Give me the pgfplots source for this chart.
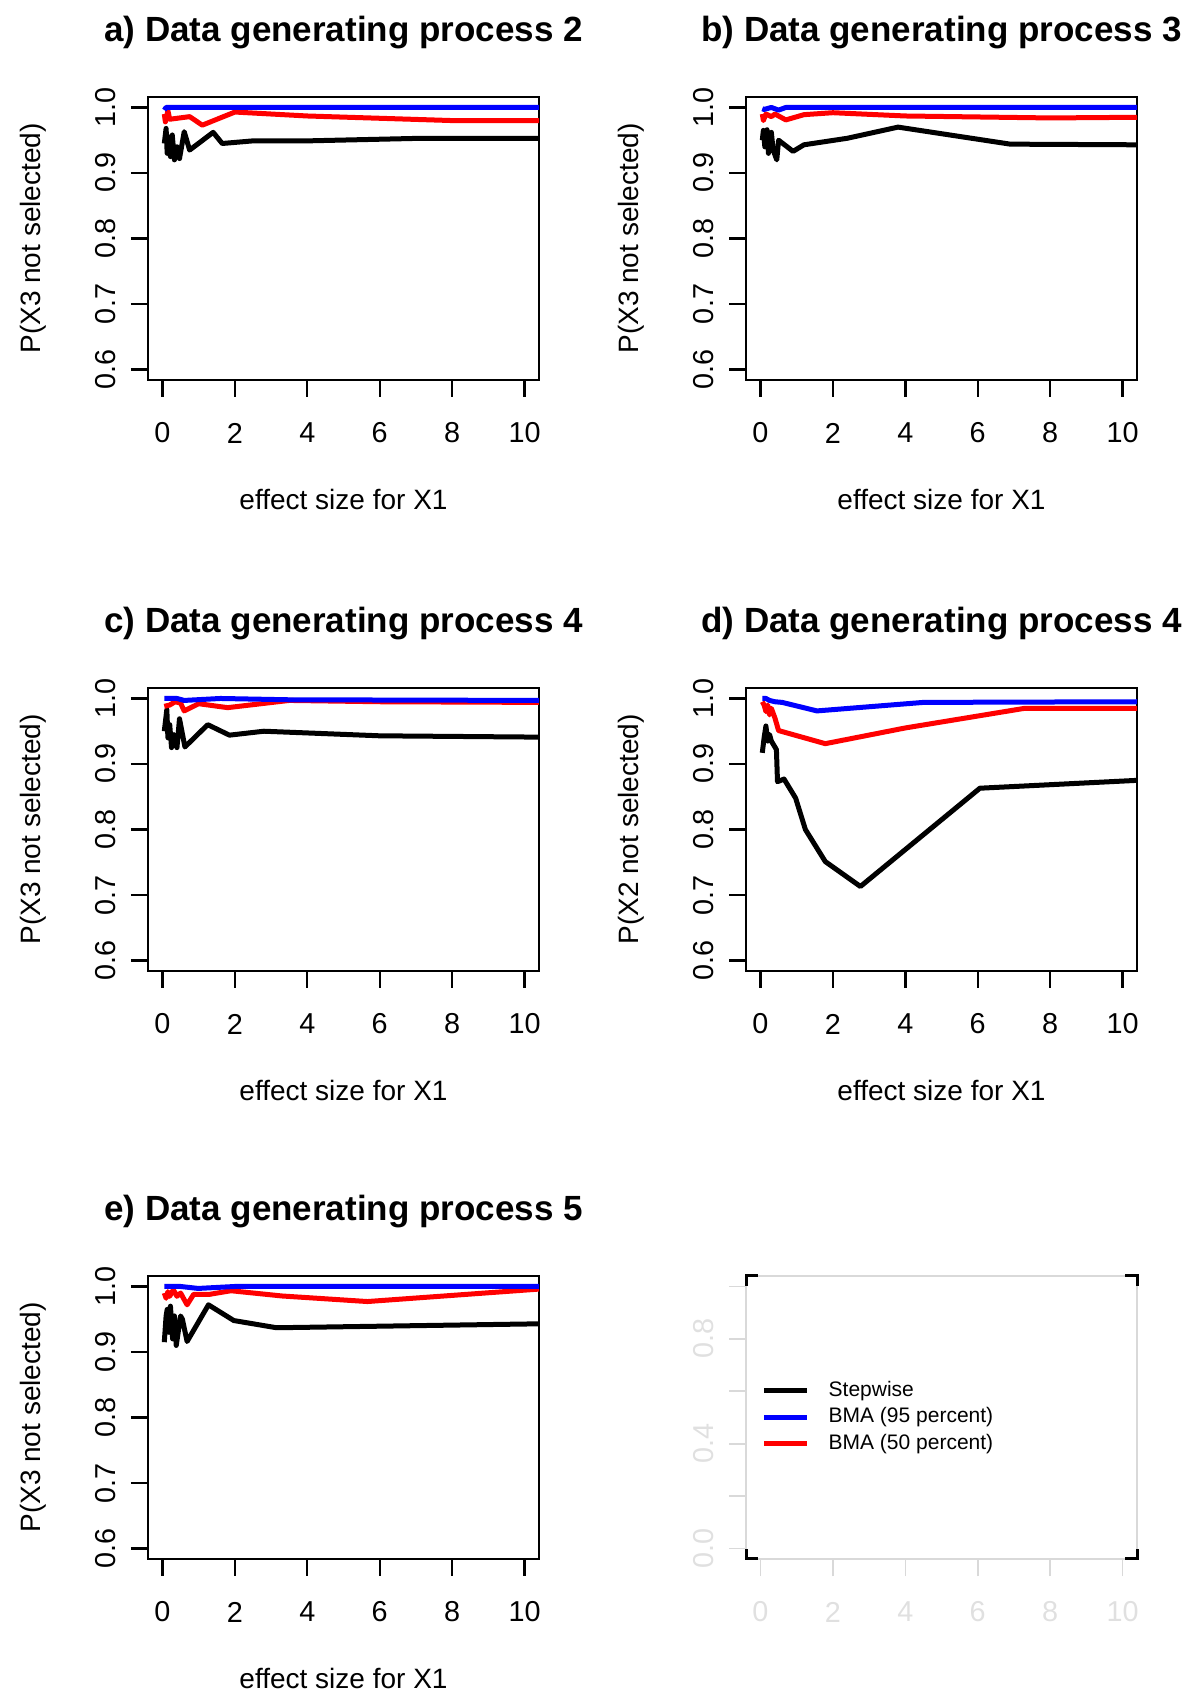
\documentclass[border=0pt]{standalone}
\usepackage{fontspec}
\setmainfont{Liberation Sans}
\usepackage{pgfplots}
\pgfplotsset{compat=1.18}

\definecolor{rblue}{RGB}{0,0,255}
\definecolor{rred}{RGB}{255,0,0}

\pgfplotsset{
  rpanel/.style={
    scale only axis, width=195.5pt, height=141.5pt,
    anchor=north west,
    xmin=-0.4, xmax=10.4, ymin=0.584, ymax=1.016,
    xtick={0,2,4,6,8,10}, ytick={0.6,0.7,0.8,0.9,1.0},
    tick pos=left, tick align=outside, major tick length=8.5pt,
    axis line style={line width=1.2pt},
    every tick/.style={black, line width=1.2pt},
    tick label style={font=\fontsize{14.4}{16}\selectfont},
    /pgf/number format/assume math mode=true,
    yticklabel={\pgfmathprintnumber[fixed,fixed zerofill,precision=1]{\tick}},
    xticklabel style={anchor=center, yshift=-18pt},
    yticklabel style={xshift=-12.5pt, rotate=90, anchor=center},
    label style={font=\fontsize{14}{16}\selectfont},
    xlabel={effect size for X1},
    xlabel style={at={(axis description cs:0.5,-0.424)}, anchor=center},
    ylabel style={at={(axis description cs:-0.294,0.5)}, anchor=center},
    title style={at={(axis description cs:0.5,1.184)}, anchor=center,
      font=\fontsize{17.5}{20}\selectfont\bfseries},
    every axis plot/.append style={line width=2.5pt, line join=round, no marks},
  },
}

\begin{document}
\begin{tikzpicture}
\path[use as bounding box] (0,0) rectangle (600pt,851.5pt);

% a)
\begin{axis}[rpanel, at={(74pt,803pt)},
  title={a) Data generating process 2}, ylabel={P(X3 not selected)}]
\addplot[black] coordinates {(0.05,0.945) (0.1,0.968) (0.13,0.93) (0.18,0.955) (0.22,0.925) (0.27,0.958) (0.33,0.92) (0.4,0.94) (0.47,0.922) (0.6,0.963) (0.75,0.935) (1.4,0.962) (1.65,0.945) (2.5,0.949) (4,0.949) (7.2,0.953) (10.4,0.953)};
\addplot[rred] coordinates {(0.05,0.99) (0.08,0.978) (0.15,0.995) (0.2,0.982) (0.75,0.986) (1.1,0.973) (2.0,0.993) (4,0.987) (8,0.980) (10.4,0.980)};
\addplot[rblue] coordinates {(0.05,0.996) (0.1,1.0) (10.4,1.0)};
\end{axis}

% b)
\begin{axis}[rpanel, at={(373pt,803pt)},
  title={b) Data generating process 3}, ylabel={P(X3 not selected)}]
\addplot[black] coordinates {(0.05,0.95) (0.08,0.965) (0.12,0.94) (0.18,0.966) (0.22,0.93) (0.3,0.962) (0.35,0.935) (0.45,0.92) (0.5,0.95) (0.9,0.933) (1.2,0.943) (2.4,0.953) (3.8,0.97) (6.9,0.944) (10.4,0.943)};
\addplot[rred] coordinates {(0.05,0.99) (0.08,0.98) (0.15,0.99) (0.3,0.986) (0.4,0.99) (0.7,0.981) (1.2,0.989) (2,0.992) (4,0.987) (8,0.984) (10.4,0.985)};
\addplot[rblue] coordinates {(0.05,0.998) (0.1,0.997) (0.3,1.0) (0.5,0.996) (0.7,1.0) (10.4,1.0)};
\end{axis}

% c)
\begin{axis}[rpanel, at={(74pt,507.5pt)},
  title={c) Data generating process 4}, ylabel={P(X3 not selected)}]
\addplot[black] coordinates {(0.05,0.95) (0.12,0.983) (0.15,0.94) (0.2,0.96) (0.25,0.925) (0.32,0.945) (0.4,0.925) (0.47,0.969) (0.62,0.926) (1.25,0.96) (1.85,0.944) (2.8,0.95) (6,0.943) (10.4,0.941)};
\addplot[rred] coordinates {(0.05,0.988) (0.2,0.99) (0.35,0.995) (0.5,0.993) (0.6,0.981) (1.0,0.992) (1.8,0.986) (3.5,0.997) (6,0.995) (10.4,0.994)};
\addplot[rblue] coordinates {(0.05,1.0) (0.4,1.0) (0.6,0.997) (1.6,1.0) (3.5,0.998) (10.4,0.997)};
\end{axis}

% d)
\begin{axis}[rpanel, at={(373pt,507.5pt)},
  title={d) Data generating process 4}, ylabel={P(X2 not selected)}]
\addplot[black] coordinates {(0.05,0.917) (0.1,0.94) (0.15,0.958) (0.2,0.935) (0.25,0.945) (0.3,0.935) (0.44,0.922) (0.47,0.873) (0.65,0.877) (0.97,0.848) (1.24,0.80) (1.79,0.751) (2.76,0.713) (6.06,0.863) (10.4,0.875)};
\addplot[rred] coordinates {(0.05,0.995) (0.1,0.99) (0.15,0.98) (0.2,0.99) (0.25,0.975) (0.3,0.985) (0.4,0.97) (0.5,0.951) (1.79,0.931) (4,0.955) (7.3,0.985) (10.4,0.985)};
\addplot[rblue] coordinates {(0.05,1.0) (0.15,1.0) (0.25,0.997) (0.4,0.995) (0.6,0.994) (1.56,0.981) (4.5,0.994) (10.4,0.995)};
\end{axis}

% e)
\begin{axis}[rpanel, at={(74pt,213.5pt)},
  title={e) Data generating process 5}, ylabel={P(X3 not selected)}]
\addplot[black] coordinates {(0.05,0.915) (0.1,0.955) (0.13,0.965) (0.18,0.93) (0.22,0.97) (0.28,0.92) (0.33,0.955) (0.38,0.91) (0.5,0.955) (0.55,0.95) (0.68,0.916) (1.27,0.972) (1.97,0.948) (3.15,0.937) (10.4,0.943)};
\addplot[rred] coordinates {(0.05,0.99) (0.1,0.982) (0.15,0.992) (0.2,0.985) (0.3,0.995) (0.4,0.985) (0.5,0.99) (0.6,0.98) (0.68,0.972) (0.86,0.988) (1.3,0.988) (1.89,0.9935) (3.3,0.9855) (5.66,0.977) (10.4,0.996)};
\addplot[rblue] coordinates {(0.05,1.0) (0.5,1.0) (0.99,0.997) (2,1.0) (10.4,1.0)};
\end{axis}

% legend panel
\begin{axis}[scale only axis, width=195.5pt, height=141.5pt,
  anchor=north west, at={(373pt,213.5pt)}, clip=false,
  xmin=-0.4, xmax=10.4, ymin=-0.04, ymax=1.04,
  xtick={0,2,4,6,8,10}, ytick={0,0.2,0.4,0.6,0.8,1},
  yticklabels={0.0,,0.4,,0.8,},
  tick pos=left, tick align=outside, major tick length=8.5pt,
  axis line style={black!15, line width=0.8pt},
  every tick/.style={black!15, line width=0.8pt},
  tick label style={font=\fontsize{14.4}{16}\selectfont, text=black!12},
  /pgf/number format/assume math mode=true,
  xticklabel style={anchor=center, yshift=-18pt},
  yticklabel style={xshift=-12.5pt, rotate=90, anchor=center},
  legend style={at={(rel axis cs:0.039,0.5)}, anchor=west, draw=none, fill=none,
    inner sep=0pt, row sep=2.75pt, column sep=9.5pt,
    font=\fontsize{10.5}{12}\selectfont,
    nodes={inner xsep=0pt, inner ysep=0pt, text height=8pt, text depth=2.5pt}},
  legend cell align=left,
  legend image code/.code={\draw[#1, line width=2.5pt] (0pt,0pt) -- (21.5pt,0pt);},
]
\addlegendimage{black}
\addlegendentry{Stepwise}
\addlegendimage{rblue}
\addlegendentry{BMA (95 percent)}
\addlegendimage{rred}
\addlegendentry{BMA (50 percent)}
\draw[black, line width=1.5pt] (rel axis cs:0,0.035) -- (rel axis cs:0,0) -- (rel axis cs:0.031,0);
\draw[black, line width=1.5pt] (rel axis cs:0,0.965) -- (rel axis cs:0,1) -- (rel axis cs:0.031,1);
\draw[black, line width=1.5pt] (rel axis cs:1,0.035) -- (rel axis cs:1,0) -- (rel axis cs:0.969,0);
\draw[black, line width=1.5pt] (rel axis cs:1,0.965) -- (rel axis cs:1,1) -- (rel axis cs:0.969,1);
\end{axis}

\end{tikzpicture}
\end{document}
